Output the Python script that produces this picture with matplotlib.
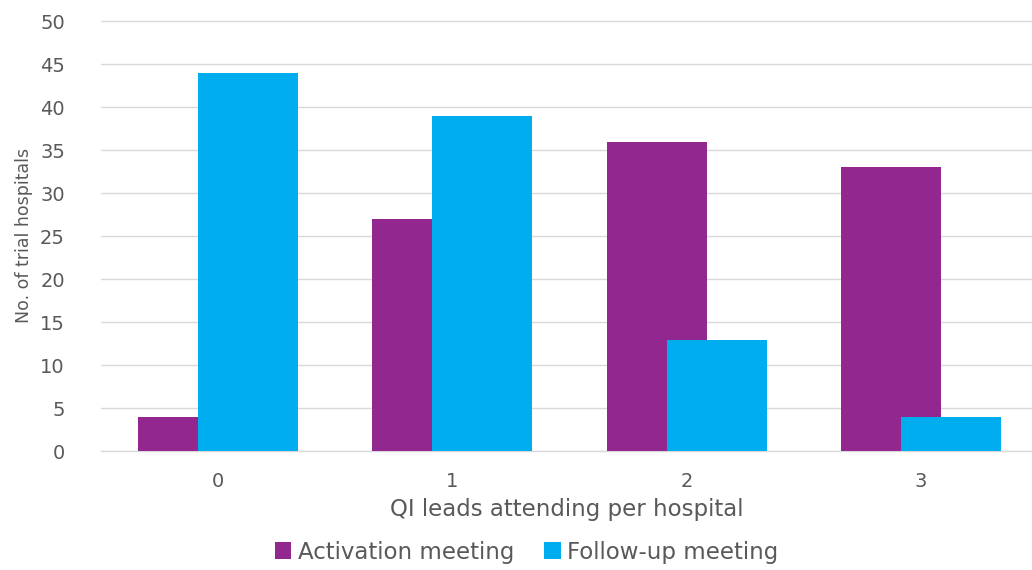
import numpy as np
import matplotlib.pyplot as plt

# 每家医院参会的QI负责人人数
categories = ['0', '1', '2', '3']
activation = [4, 27, 36, 33]
follow_up = [44, 39, 13, 4]

purple = '#92278F'
blue = '#00AEEF'
grey_txt = '#595959'
grid_c = '#d9d9d9'

plt.rcParams['font.family'] = ['DejaVu Sans']

fig = plt.figure(figsize=(10.32, 5.70), dpi=100)
# 坐标区：左边101px, 0线在451px
ax = fig.add_axes([101/1032, 1-451.3/570, 1-101/1032, (451.3-15)/570])

x = np.arange(len(categories))
w = 0.427
# 两组柱子重叠，follow-up在上层
ax.bar(x - 0.128, activation, width=w, color=purple, zorder=2, label='Activation meeting')
ax.bar(x + 0.128, follow_up, width=w, color=blue, zorder=3, label='Follow-up meeting')

ax.set_xlim(-0.5, (1032-218)/234.3)
ax.set_ylim(0, 50 + 6.3/8.6)
ax.set_yticks(range(0, 51, 5))
ax.set_xticks(x)
ax.set_xticklabels(categories)
ax.grid(axis='y', color=grid_c, linewidth=1.0, zorder=0)
ax.axhline(0, color=grid_c, linewidth=1.0, zorder=1, clip_on=False)
ax.set_axisbelow(True)
for s in ax.spines.values():
    s.set_visible(False)
ax.tick_params(axis='both', length=0, labelsize=14, colors=grey_txt)
ax.tick_params(axis='y', pad=26)
ax.tick_params(axis='x', pad=15)

ax.set_xlabel('QI leads attending per hospital', fontsize=16.5, color=grey_txt, labelpad=5)
ax.set_ylabel('No. of trial hospitals', fontsize=12.5, color=grey_txt)
ax.yaxis.set_label_coords(-68/931, 0.5 - (235 - 233)/436)

leg = fig.legend(loc='center', bbox_to_anchor=(527/1032, 1-552/570), ncol=2, frameon=False,
                 fontsize=16.5, handlelength=0.7, handleheight=0.7, handletextpad=0.3,
                 columnspacing=1.3, labelcolor=grey_txt)

plt.savefig('out.png', dpi=100)
